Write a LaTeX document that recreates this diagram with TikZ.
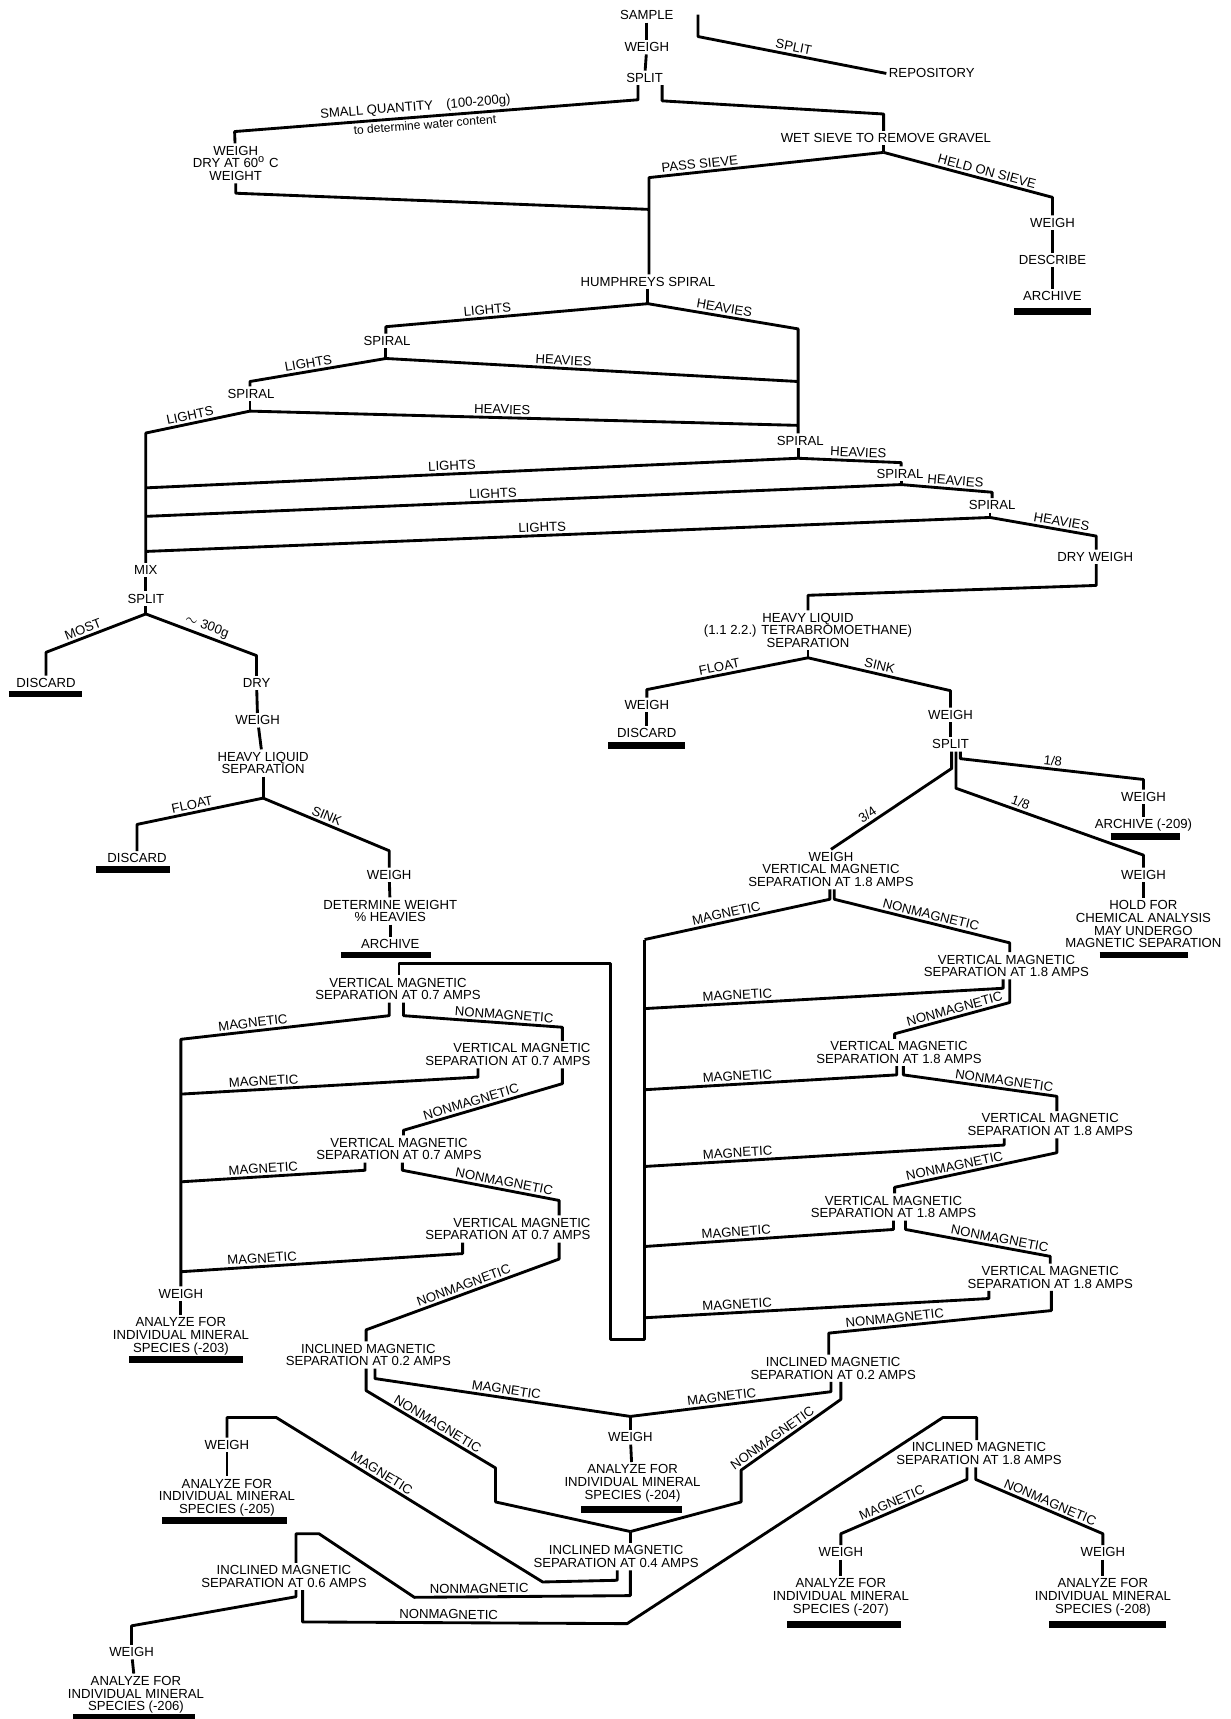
\documentclass[tikz,border=0pt]{standalone}
\usepackage{fontspec}
\setmainfont{Liberation Sans}

\begin{document}
\begin{tikzpicture}[
        x=0.5pt, y=-0.5pt,
        txt/.style={font=\fontsize{6}{5.8}\selectfont, align=center, inner sep=1pt},
        lbl/.style={font=\fontsize{6}{6}\selectfont, inner sep=1pt, sloped, above},
        link/.style={line width=1.3pt, line join=round},
        bar/.style={line width=3pt}
    ]
    \useasboundingbox (0,0) rectangle (1122,1568);

    % Sample and first split
    \node[txt] (sample) at (590,14) {SAMPLE};
    \node[txt] (weigh-a) at (590,43) {WEIGH};
    \node[txt] (split-a) at (588,71) {SPLIT};
    \node[txt] (repository) at (850,67) {REPOSITORY};
    \node[txt] (dry-weight) at (215,149) {WEIGH\\DRY AT 60\textsuperscript{o} C\\WEIGHT};
    \node[txt] (wet-sieve) at (808,126) {WET SIEVE TO REMOVE GRAVEL};
    \node[txt] (weigh-b) at (960,203) {WEIGH};
    \node[txt] (describe) at (960,237) {DESCRIBE};
    \node[txt] (archive-a) at (960,270) {ARCHIVE};

    % Spirals
    \node[txt] (humphreys) at (591,257) {HUMPHREYS SPIRAL};
    \node[txt] (spiral-a) at (353,311) {SPIRAL};
    \node[txt] (spiral-b) at (229,359) {SPIRAL};
    \node[txt] (spiral-c) at (730,402) {SPIRAL};
    \node[txt] (spiral-d) at (821,432) {SPIRAL};
    \node[txt] (spiral-e) at (905,461) {SPIRAL};
    \node[txt] (dry-weigh) at (999,508) {DRY WEIGH};
    \node[txt] (mix) at (133,520) {MIX};
    \node[txt] (split-c) at (133,546) {SPLIT};

    % Left heavy liquid
    \node[txt] (discard-a) at (42,623) {DISCARD};
    \node[txt] (dry) at (234,623) {DRY};
    \node[txt] (weigh-c) at (235,657) {WEIGH};
    \node[txt] (heavy-liquid-a) at (240,696) {HEAVY LIQUID\\SEPARATION};
    \node[txt] (discard-b) at (125,783) {DISCARD};
    \node[txt] (weigh-d) at (355,798) {WEIGH};
    \node[txt] (det-weight) at (356,831) {DETERMINE WEIGHT\\\% HEAVIES};
    \node[txt] (archive-b) at (356,861) {ARCHIVE};

    % Right heavy liquid
    \node[txt] (heavy-liquid-b) at (737,575) {HEAVY LIQUID\\(1.1 2.2.) TETRABROMOETHANE)\\SEPARATION};
    \node[txt] (weigh-e) at (590,643) {WEIGH};
    \node[txt] (discard-c) at (590,669) {DISCARD};
    \node[txt] (weigh-f) at (867,652) {WEIGH};
    \node[txt] (split-b) at (867,679) {SPLIT};
    \node[txt] (weigh-g) at (1043,727) {WEIGH};
    \node[txt] (archive-c) at (1043,753) {ARCHIVE (-209)};
    \node[txt] (vm18-a) at (758,793) {WEIGH\\VERTICAL MAGNETIC\\SEPARATION AT 1.8 AMPS};
    \node[txt] (weigh-h) at (1043,798) {WEIGH};
    \node[txt] (hold) at (1043,843) {HOLD FOR\\CHEMICAL ANALYSIS\\MAY UNDERGO\\MAGNETIC SEPARATION};

    % Vertical magnetic separations
    \node[txt] (vm07-a) at (363,902) {VERTICAL MAGNETIC\\SEPARATION AT 0.7 AMPS};
    \node[txt, align=right, anchor=east] (vm07-b) at (541,962) {VERTICAL MAGNETIC\\SEPARATION AT 0.7 AMPS};
    \node[txt] (vm07-c) at (364,1048) {VERTICAL MAGNETIC\\SEPARATION AT 0.7 AMPS};
    \node[txt, align=right, anchor=east] (vm07-d) at (541,1121) {VERTICAL MAGNETIC\\SEPARATION AT 0.7 AMPS};
    \node[txt] (weigh-i) at (165,1180) {WEIGH};
    \node[txt] (species-203) at (165,1219) {ANALYZE FOR\\INDIVIDUAL MINERAL\\SPECIES (-203)};
    \node[txt] (vm18-b) at (918,881) {VERTICAL MAGNETIC\\SEPARATION AT 1.8 AMPS};
    \node[txt] (vm18-c) at (820,960) {VERTICAL MAGNETIC\\SEPARATION AT 1.8 AMPS};
    \node[txt] (vm18-d) at (958,1026) {VERTICAL MAGNETIC\\SEPARATION AT 1.8 AMPS};
    \node[txt] (vm18-e) at (815,1101) {VERTICAL MAGNETIC\\SEPARATION AT 1.8 AMPS};
    \node[txt] (vm18-f) at (958,1165) {VERTICAL MAGNETIC\\SEPARATION AT 1.8 AMPS};

    % Inclined magnetic separations
    \node[txt] (inc02-a) at (336,1236) {INCLINED MAGNETIC\\SEPARATION AT 0.2 AMPS};
    \node[txt] (inc02-b) at (760,1248) {INCLINED MAGNETIC\\SEPARATION AT 0.2 AMPS};
    \node[txt] (weigh-j) at (575,1311) {WEIGH};
    \node[txt] (species-204) at (577,1353) {ANALYZE FOR\\INDIVIDUAL MINERAL\\SPECIES (-204)};
    \node[txt] (weigh-k) at (207,1318) {WEIGH};
    \node[txt] (species-205) at (207,1366) {ANALYZE FOR\\INDIVIDUAL MINERAL\\SPECIES (-205)};
    \node[txt] (inc04) at (562,1420) {INCLINED MAGNETIC\\SEPARATION AT 0.4 AMPS};
    \node[txt] (inc06) at (259,1438) {INCLINED MAGNETIC\\SEPARATION AT 0.6 AMPS};
    \node[txt] (weigh-l) at (120,1507) {WEIGH};
    \node[txt] (species-206) at (124,1546) {ANALYZE FOR\\INDIVIDUAL MINERAL\\SPECIES (-206)};
    \node[txt] (inc18) at (893,1326) {INCLINED MAGNETIC\\SEPARATION AT 1.8 AMPS};
    \node[txt] (weigh-m) at (767,1416) {WEIGH};
    \node[txt] (species-207) at (767,1457) {ANALYZE FOR\\INDIVIDUAL MINERAL\\SPECIES (-207)};
    \node[txt] (weigh-n) at (1006,1416) {WEIGH};
    \node[txt] (species-208) at (1006,1457) {ANALYZE FOR\\INDIVIDUAL MINERAL\\SPECIES (-208)};

    % Junctions
    \coordinate (sieve-j) at (806,139);
    \coordinate (water-j) at (592,191);
    \coordinate (hs-j) at (591,277);
    \coordinate (sa-j) at (352,327);
    \coordinate (sb-j) at (228,375);
    \coordinate (sc-j) at (728,418);
    \coordinate (sd-j) at (822,442);
    \coordinate (se-j) at (903,472);
    \coordinate (heavy-1) at (728,348);
    \coordinate (heavy-2) at (728,388);
    \coordinate (light-3) at (133,445);
    \coordinate (light-4) at (133,471);
    \coordinate (light-5) at (133,503);
    \coordinate (mix-j) at (133,560);
    \coordinate (hla-j) at (240,728);
    \coordinate (hlb-j) at (737,600);
    \coordinate (mag-0) at (588,857);
    \coordinate (mag-1) at (588,920);
    \coordinate (mag-2) at (588,994);
    \coordinate (mag-3) at (588,1064);
    \coordinate (mag-4) at (588,1137);
    \coordinate (mag-5) at (588,1202);
    \coordinate (col-1) at (165,998);
    \coordinate (col-2) at (165,1078);
    \coordinate (col-3) at (165,1160);
    \coordinate (mag-204) at (575,1292);
    \coordinate (in04-j) at (575,1397);

    % Connections: sample
    \draw[link] (sample) -- (weigh-a);
    \draw[link] (weigh-a) -- (split-a);
    \draw[link] ([xshift=10pt,yshift=-3pt]sample.north east) -- ++(0,20) -- node[lbl]{SPLIT} (repository.west);
    \draw[link] (split-a.south -| 582,0) -- (582,91) -- node[lbl,pos=.55]{SMALL QUANTITY\quad (100-200g)} node[lbl,below,pos=.53,font=\fontsize{5.5}{6}\selectfont]{to determine water content} (214,120) -- (dry-weight);
    \draw[link] (dry-weight.south) -- ++(0,9) -- (water-j);
    \draw[link] (split-a.south -| 604,0) -- (604,92) -- (806,104) -- (wet-sieve.north -| 806,0);
    \draw[link] (wet-sieve.south -| 806,0) -- (sieve-j);
    \draw[link] (sieve-j) -- node[lbl,pos=.78]{PASS SIEVE} (592,162) -- (humphreys.north -| 592,0);
    \draw[link] (sieve-j) -- node[lbl,pos=.6]{HELD ON SIEVE} (960,180) -- (weigh-b);
    \draw[link] (weigh-b) -- (describe);
    \draw[link] (describe) -- (archive-a);
    \draw[bar] (925,284) -- (995,284);

    % Connections: spirals
    \draw[link] (humphreys) -- (hs-j);
    \draw[link] (hs-j) -- node[lbl,pos=.61]{LIGHTS} (352,298) -- (spiral-a.north -| 352,0);
    \draw[link] (hs-j) -- node[lbl,pos=.5]{HEAVIES} (728,300) -- (spiral-c.north -| 728,0);
    \draw[link] (spiral-a.south -| 352,0) -- (sa-j);
    \draw[link] (sa-j) -- node[lbl,pos=.56]{LIGHTS} (228,348) -- (spiral-b.north -| 228,0);
    \draw[link] (sa-j) -- node[lbl,pos=.43]{HEAVIES} (heavy-1);
    \draw[link] (spiral-b.south -| 228,0) -- (sb-j);
    \draw[link] (sb-j) -- node[lbl,pos=.56]{LIGHTS} (133,395) -- (mix);
    \draw[link] (sb-j) -- node[lbl,pos=.46]{HEAVIES} (heavy-2);
    \draw[link] (spiral-c.south -| 728,0) -- (sc-j);
    \draw[link] (sc-j) -- node[lbl,pos=.53]{LIGHTS} (light-3);
    \draw[link] (sc-j) -- node[lbl,pos=.58]{HEAVIES} (822,422) -- (spiral-d.north -| 822,0);
    \draw[link] (spiral-d.south -| 822,0) -- (sd-j);
    \draw[link] (sd-j) -- node[lbl,pos=.54]{LIGHTS} (light-4);
    \draw[link] (sd-j) -- node[lbl,pos=.59]{HEAVIES} (905,449) -- (spiral-e.north -| 905,0);
    \draw[link] (spiral-e.south -| 903,0) -- (se-j);
    \draw[link] (se-j) -- node[lbl,pos=.53]{LIGHTS} (light-5);
    \draw[link] (se-j) -- node[lbl,pos=.66]{HEAVIES} (1000,489) -- (dry-weigh.north -| 1000,0);

    % Connections: left heavy liquid
    \draw[link] (mix) -- (split-c);
    \draw[link] (split-c) -- (mix-j);
    \draw[link] (mix-j) -- node[lbl,pos=.6]{MOST} (42,595) -- (discard-a);
    \draw[link] (mix-j) -- node[lbl,pos=.52]{$\sim$ 300g} (234,598) -- (dry);
    \draw[bar] (8,633) -- (75,633);
    \draw[link] (dry) -- (weigh-c);
    \draw[link] (weigh-c) -- (heavy-liquid-a);
    \draw[link] (heavy-liquid-a) -- (hla-j);
    \draw[link] (hla-j) -- node[lbl,pos=.55]{FLOAT} (125,752) -- (discard-b);
    \draw[link] (hla-j) -- node[lbl,pos=.48]{SINK} (355,776) -- (weigh-d);
    \draw[bar] (88,793) -- (155,793);
    \draw[link] (weigh-d) -- (det-weight);
    \draw[link] (det-weight) -- (archive-b);
    \draw[bar] (311,871) -- (393,871);

    % Connections: right heavy liquid
    \draw[link] (dry-weigh.south -| 1000,0) -- (1000,534) -- (737,543) -- (heavy-liquid-b);
    \draw[link] (heavy-liquid-b) -- (hlb-j);
    \draw[link] (hlb-j) -- node[lbl,pos=.54]{FLOAT} (590,629) -- (weigh-e);
    \draw[link] (hlb-j) -- node[lbl,pos=.49]{SINK} (867,630) -- (weigh-f);
    \draw[link] (weigh-e) -- (discard-c);
    \draw[bar] (555,680) -- (625,680);
    \draw[link] (weigh-f) -- (split-b);
    \draw[link] (split-b.south -| 876,0) -- (876,692) -- node[lbl,pos=.5]{1/8} (1043,711) -- (weigh-g);
    \draw[link] (split-b.south -| 872,0) -- (872,719) -- node[lbl,pos=.33]{1/8} (1043,780) -- (weigh-h);
    \draw[link] (split-b.south -| 868,0) -- (868,701) -- node[lbl,pos=.66]{3/4} (vm18-a.north -| 758,0);
    \draw[link] (weigh-g) -- (archive-c);
    \draw[bar] (1013,763) -- (1076,763);
    \draw[link] (weigh-h) -- (hold);
    \draw[bar] (1003,871) -- (1084,871);

    % Connections: 1.8 amps
    \draw[link] (vm18-a.south -| 757,0) -- ++(0,9) -- node[lbl,pos=.55]{MAGNETIC} (mag-0);
    \draw[link] (vm18-a.south -| 761,0) -- ++(0,9) -- node[lbl,pos=.54]{NONMAGNETIC} (921,860) -- (vm18-b.north -| 921,0);
    \draw[link] (vm18-b.south -| 915,0) -- ++(0,8) -- node[lbl,pos=.74]{MAGNETIC} (mag-1);
    \draw[link] (vm18-b.south -| 921,0) -- ++(0,21) -- node[lbl,pos=.46]{NONMAGNETIC} (816,943) -- (vm18-c.north -| 816,0);
    \draw[link] (vm18-c.south -| 818,0) -- ++(0,8) -- node[lbl,pos=.63]{MAGNETIC} (mag-2);
    \draw[link] (vm18-c.south -| 824,0) -- ++(0,8) -- node[lbl,pos=.65]{NONMAGNETIC} (964,1000) -- (vm18-d.north -| 964,0);
    \draw[link] (vm18-d.south -| 916,0) -- ++(0,6) -- node[lbl,pos=.74]{MAGNETIC} (mag-3);
    \draw[link] (vm18-d.south -| 964,0) -- ++(0,13) -- node[lbl,pos=.62]{NONMAGNETIC} (816,1083) -- (vm18-e.north -| 816,0);
    \draw[link] (vm18-e.south -| 815,0) -- ++(0,8) -- node[lbl,pos=.63]{MAGNETIC} (mag-4);
    \draw[link] (vm18-e.south -| 826,0) -- ++(0,8) -- node[lbl,pos=.64]{NONMAGNETIC} (958,1146) -- (vm18-f.north -| 958,0);
    \draw[link] (vm18-f.south -| 902,0) -- ++(0,7) -- node[lbl,pos=.73]{MAGNETIC} (mag-5);
    \draw[link] (vm18-f.south -| 959,0) -- ++(0,18) -- node[lbl,pos=.7]{NONMAGNETIC} (756,1216) -- (inc02-b.north -| 756,0);

    % Magnetic collector back to 0.7 amps
    \draw[link] (mag-0) -- (588,1222) -- (557,1222) -- (557,879) -- (364,879) -- (vm07-a.north -| 364,0);

    % Connections: 0.7 amps
    \draw[link] (vm07-a.south -| 355,0) -- ++(0,12) -- node[lbl,pos=.65]{MAGNETIC} (165,948) -- (weigh-i);
    \draw[link] (vm07-a.south -| 368,0) -- ++(0,12) -- node[lbl,pos=.63]{NONMAGNETIC} (513,937) -- (vm07-b.north -| 513,0);
    \draw[link] (vm07-b.south -| 436,0) -- ++(0,8) -- node[lbl,pos=.72]{MAGNETIC} (col-1);
    \draw[link] (vm07-b.south -| 513,0) -- ++(0,14) -- node[lbl,pos=.56]{NONMAGNETIC} (368,1031) -- (vm07-c.north -| 368,0);
    \draw[link] (vm07-c.south -| 333,0) -- ++(0,7) -- node[lbl,pos=.55]{MAGNETIC} (col-2);
    \draw[link] (vm07-c.south -| 367,0) -- ++(0,7) -- node[lbl,pos=.64]{NONMAGNETIC} (510,1095) -- (vm07-d.north -| 510,0);
    \draw[link] (vm07-d.south -| 422,0) -- ++(0,10) -- node[lbl,pos=.71]{MAGNETIC} (col-3);
    \draw[link] (vm07-d.south -| 510,0) -- ++(0,15) -- node[lbl,pos=.48]{NONMAGNETIC} (334,1213) -- (inc02-a.north -| 334,0);
    \draw[link] (weigh-i) -- (species-203);
    \draw[bar] (118,1240) -- (222,1240);

    % Connections: inclined
    \draw[link] (inc02-a.south -| 342,0) -- ++(0,9) -- node[lbl,pos=.51]{MAGNETIC} (mag-204);
    \draw[link] (inc02-a.south -| 334,0) -- ++(0,20) -- node[lbl,pos=.52]{NONMAGNETIC} (452,1339) -- (452,1370) -- (in04-j);
    \draw[link] (inc02-b.south -| 758,0) -- ++(0,9) -- node[lbl,pos=.54]{MAGNETIC} (mag-204);
    \draw[link] (inc02-b.south -| 767,0) -- ++(0,16) -- node[lbl,pos=.64]{NONMAGNETIC} (676,1341) -- (676,1370) -- (in04-j);
    \draw[link] (mag-204) -- (weigh-j);
    \draw[link] (weigh-j) -- (species-204);
    \draw[bar] (530,1377) -- (622,1377);
    \draw[link] (in04-j) -- (inc04.north -| 575,0);
    \draw[link] (inc04.south -| 563,0) -- ++(0,9) -- (495,1443) -- node[lbl,pos=.62]{MAGNETIC} (252,1293) -- (207,1293) -- (weigh-k);
    \draw[link] (weigh-k) -- (species-205);
    \draw[bar] (148,1387) -- (262,1387);
    \draw[link] (inc04.south -| 575,0) -- ++(0,23) -- node[lbl,pos=.7]{NONMAGNETIC} (378,1457) -- (291,1399) -- (270,1399) -- (inc06.north -| 270,0);
    \draw[link] (inc06.south -| 270,0) -- ++(0,6) -- (120,1483) -- (weigh-l);
    \draw[link] (weigh-l) -- (species-206);
    \draw[bar] (67,1566) -- (178,1566);
    \draw[link] (inc06.south -| 276,0) -- ++(0,29) -- node[lbl,pos=.45]{NONMAGNETIC} (572,1481) -- (860,1293) -- (891,1293) -- (inc18.north -| 891,0);
    \draw[link] (inc18.south -| 882,0) -- ++(0,11) -- node[lbl,pos=.57]{MAGNETIC} (767,1399) -- (weigh-m);
    \draw[link] (inc18.south -| 890,0) -- ++(0,11) -- node[lbl,pos=.56]{NONMAGNETIC} (1006,1399) -- (weigh-n);
    \draw[link] (weigh-m) -- (species-207);
    \draw[link] (weigh-n) -- (species-208);
    \draw[bar] (718,1482) -- (822,1482);
    \draw[bar] (957,1482) -- (1064,1482);

\end{tikzpicture}
\end{document}
